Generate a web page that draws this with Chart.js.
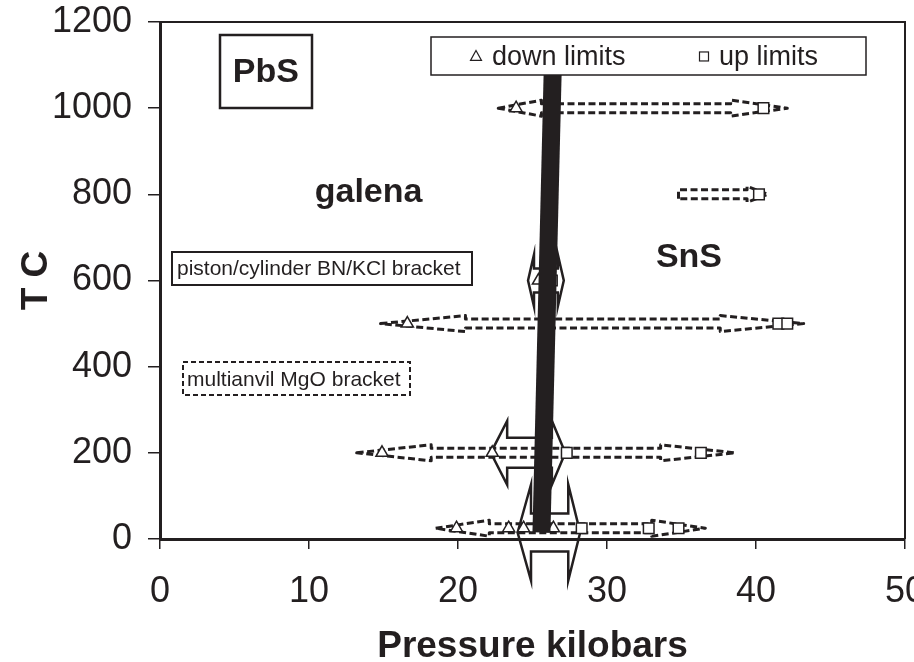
<!DOCTYPE html>
<html>
<head>
<meta charset="utf-8">
<title>PbS phase diagram</title>
<script src="https://cdn.jsdelivr.net/npm/chart.js@4.4.0/dist/chart.umd.min.js"></script>
<style>
  html, body { margin: 0; padding: 0; background: #fff; }
  #wrap { width: 914px; height: 662px; }
</style>
</head>
<body>
<div id="wrap"><canvas id="chart"></canvas></div>
<script>
// bracketing runs: pressure (kbar) and temperature (C)
var DOWN_P = [23.9, 25.4, 16.6, 14.9, 22.3, 19.9, 23.4, 24.4, 26.4];
var DOWN_T = [1000, 600, 500, 200, 200, 25, 25, 25, 25];
var UP_P = [40.5, 40.2, 26.3, 41.5, 42.1, 27.3, 36.3, 28.3, 32.8, 34.8];
var UP_T = [1000, 800, 600, 500, 500, 200, 200, 25, 25, 25];

// galena / SnS-type boundary
var BOUNDARY_P = [25.6, 26.4];
var BOUNDARY_T = [15, 1150];

// dashed bracket spans: tip, head end, head start, tip (kbar)
var SPAN_T = [1000, 800, 500, 200, 25];
var SPAN_TIP_L = [22.7, 34.8, 14.8, 13.2, 18.5];
var SPAN_HEAD_L = [25.6, 34.8, 20.5, 18.2, 22.1];
var SPAN_HEAD_R = [38.3, 39.4, 37.6, 33.6, 33.0];
var SPAN_TIP_R = [42.1, 40.8, 43.2, 38.6, 36.6];

// reversal arrows around the boundary
var REV_T = [600, 200, 15];
var REV_TIP_L = [24.7, 22.2, 24.0];
var REV_HEAD_L = [25.1, 23.3, 24.9];
var REV_HEAD_R = [26.7, 26.3, 27.4];
var REV_TIP_R = [27.1, 27.2, 28.2];

var X_MIN = 0, X_MAX = 50, X_STEP = 10;
var Y_MIN = 0, Y_MAX = 1200, Y_STEP = 200;

var INK = '#231f20';
var FONT = "'Liberation Sans', Arial, sans-serif";

// arrow outline sizes in px
var SPAN_HEAD_PX = 8, SPAN_SHAFT_PX = 4.5;
var REV_HEAD_PX = [26, 32, 48];
var REV_SHAFT_PX = [12, 15, 19];

function toPoints(ps, ts) {
  return ps.map(function (p, i) { return {x: p, y: ts[i]}; });
}

function arrowPath(ctx, xl, xhl, xhr, xr, y, head, shaft) {
  ctx.beginPath();
  var flatLeft = xhl <= xl;
  if (flatLeft) {
    ctx.moveTo(xl, y + shaft);
    ctx.lineTo(xl, y - shaft);
  } else {
    ctx.moveTo(xl, y);
    ctx.lineTo(xhl, y - head);
    ctx.lineTo(xhl, y - shaft);
  }
  ctx.lineTo(xhr, y - shaft);
  ctx.lineTo(xhr, y - head);
  ctx.lineTo(xr, y);
  ctx.lineTo(xhr, y + head);
  ctx.lineTo(xhr, y + shaft);
  if (flatLeft) {
    ctx.lineTo(xl, y + shaft);
  } else {
    ctx.lineTo(xhl, y + shaft);
    ctx.lineTo(xhl, y + head);
    ctx.closePath();
  }
}

var arrowsPlugin = {
  id: 'arrows',
  beforeDatasetsDraw: function (chart) {
    var ctx = chart.ctx, xs = chart.scales.x, ys = chart.scales.y;
    var px = function (v) { return xs.getPixelForValue(v); };
    ctx.save();
    ctx.strokeStyle = INK;
    ctx.lineJoin = 'round';
    ctx.lineWidth = 3;
    ctx.setLineDash([7, 3.5]);
    SPAN_T.forEach(function (t, i) {
      arrowPath(ctx, px(SPAN_TIP_L[i]), px(SPAN_HEAD_L[i]), px(SPAN_HEAD_R[i]), px(SPAN_TIP_R[i]),
        ys.getPixelForValue(t), SPAN_HEAD_PX, SPAN_SHAFT_PX);
      ctx.stroke();
    });
    ctx.setLineDash([]);
    ctx.lineWidth = 2.5;
    ctx.lineJoin = 'miter';
    REV_T.forEach(function (t, i) {
      arrowPath(ctx, px(REV_TIP_L[i]), px(REV_HEAD_L[i]), px(REV_HEAD_R[i]), px(REV_TIP_R[i]),
        ys.getPixelForValue(t), REV_HEAD_PX[i], REV_SHAFT_PX[i]);
      ctx.stroke();
    });
    ctx.restore();
  },
  afterDraw: function (chart) {
    var ctx = chart.ctx, a = chart.chartArea, xs = chart.scales.x, ys = chart.scales.y;
    ctx.save();
    // top and right sides of the plot frame
    ctx.strokeStyle = INK;
    ctx.lineWidth = 2;
    ctx.beginPath();
    ctx.moveTo(a.left, a.top);
    ctx.lineTo(a.right, a.top);
    ctx.lineTo(a.right, a.bottom);
    ctx.stroke();

    function box(p, t, w, h, dashed, lw) {
      var cx = xs.getPixelForValue(p), cy = ys.getPixelForValue(t);
      var x0 = Math.round(cx - w / 2), y0 = Math.round(cy - h / 2);
      ctx.fillStyle = '#fff';
      ctx.fillRect(x0, y0, w, h);
      ctx.setLineDash(dashed ? [5, 3] : []);
      ctx.lineWidth = lw;
      ctx.strokeStyle = INK;
      ctx.strokeRect(x0, y0, w, h);
      ctx.setLineDash([]);
      return {x: x0, y: y0, cx: cx, cy: cy};
    }
    function label(text, x, y, size, bold, align) {
      ctx.fillStyle = INK;
      ctx.font = (bold ? 'bold ' : '') + size + 'px ' + FONT;
      ctx.textAlign = align || 'center';
      ctx.textBaseline = 'middle';
      ctx.fillText(text, x, y);
    }

    var b = box(7.1, 1085, 92, 73, false, 2.5);
    label('PbS', b.cx, b.cy + 1, 34, true);

    label('galena', xs.getPixelForValue(14.0), ys.getPixelForValue(803), 34, true);
    label('SnS', xs.getPixelForValue(35.5), ys.getPixelForValue(652), 34, true);

    b = box(10.9, 628, 300, 33, false, 2);
    label('piston/cylinder BN/KCl bracket', b.x + 5, b.cy + 1, 21, false, 'left');

    b = box(9.15, 372, 227, 33, true, 2);
    label('multianvil MgO bracket', b.x + 4, b.cy + 1, 21, false, 'left');

    // legend
    b = box(32.76, 1120, 435, 38, false, 1.5);
    var sets = chart.data.datasets;
    ctx.lineWidth = 1.2;
    ctx.strokeStyle = INK;
    var tx = b.x + 45, ty = b.cy;
    ctx.beginPath();
    ctx.moveTo(tx, ty - 6);
    ctx.lineTo(tx + 5.5, ty + 4);
    ctx.lineTo(tx - 5.5, ty + 4);
    ctx.closePath();
    ctx.stroke();
    label(sets[0].label, tx + 16, ty + 1, 27, false, 'left');
    var sx = b.x + 273;
    ctx.strokeRect(sx - 4.5, ty - 4.5, 9, 9);
    label(sets[1].label, sx + 15, ty + 1, 27, false, 'left');
    ctx.restore();
  }
};

var markerStyle = {
  showLine: false,
  borderColor: INK,
  backgroundColor: '#fff',
  pointBorderWidth: 1.5,
  pointHoverRadius: 0
};

function plainNumber(v) { return String(v); }

new Chart(document.getElementById('chart'), {
  type: 'scatter',
  data: {
    datasets: [
      Object.assign({
        label: 'down limits',
        data: toPoints(DOWN_P, DOWN_T),
        pointStyle: 'triangle',
        pointRadius: 7,
        order: 1
      }, markerStyle),
      Object.assign({
        label: 'up limits',
        data: toPoints(UP_P, UP_T),
        pointStyle: 'rect',
        pointRadius: 7.5,
        order: 1
      }, markerStyle),
      {
        label: 'boundary',
        data: toPoints(BOUNDARY_P, BOUNDARY_T),
        showLine: true,
        borderColor: INK,
        borderWidth: 18,
        borderCapStyle: 'butt',
        pointRadius: 0,
        order: 0
      }
    ]
  },
  options: {
    responsive: true,
    maintainAspectRatio: false,
    animation: false,
    events: [],
    layout: { padding: { top: 22, right: 6, left: 0, bottom: 0 } },
    plugins: {
      legend: { display: false },
      tooltip: { enabled: false }
    },
    scales: {
      x: {
        type: 'linear',
        min: X_MIN, max: X_MAX,
        ticks: { stepSize: X_STEP, color: INK, padding: 21, maxRotation: 0, callback: plainNumber,
          font: { family: FONT, size: 36 } },
        grid: { drawOnChartArea: false, drawTicks: true, tickLength: 10, color: INK, lineWidth: 1.5 },
        border: { display: true, color: INK, width: 3 },
        title: { display: true, text: 'Pressure kilobars', color: INK,
          font: { family: FONT, size: 37, weight: 'bold', lineHeight: 1 },
          padding: { top: 0, bottom: -3 } },
        afterFit: function (s) { s.height = 123; s.paddingLeft = 0; s.paddingRight = 0; }
      },
      y: {
        type: 'linear',
        min: Y_MIN, max: Y_MAX,
        ticks: { stepSize: Y_STEP, color: INK, padding: 16, callback: plainNumber,
          font: { family: FONT, size: 36 } },
        grid: { drawOnChartArea: false, drawTicks: true, tickLength: 12, color: INK, lineWidth: 1.5 },
        border: { display: true, color: INK, width: 3 },
        title: { display: true, text: 'T C', color: INK,
          font: { family: FONT, size: 37, weight: 'bold', lineHeight: 1 },
          padding: { top: 18, bottom: 0 } },
        afterFit: function (s) { s.width = 160; s.paddingTop = 0; s.paddingBottom = 0; }
      }
    }
  },
  plugins: [arrowsPlugin]
});
</script>
</body>
</html>
